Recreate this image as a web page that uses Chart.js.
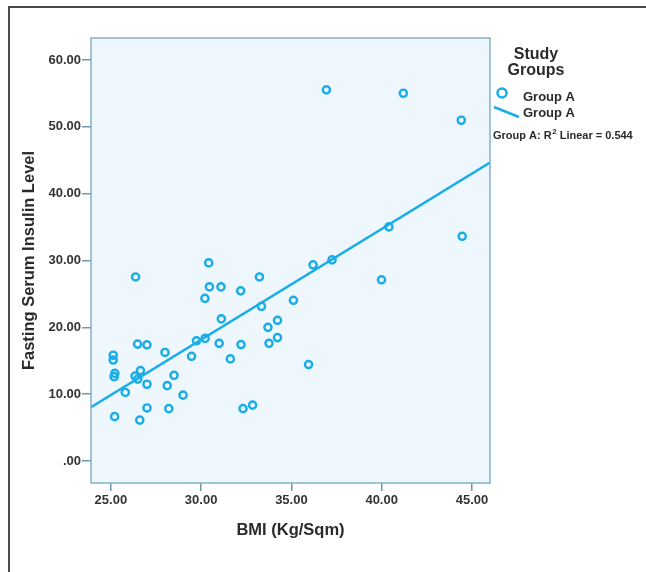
<!DOCTYPE html>
<html>
<head>
<meta charset="utf-8">
<script src="https://cdn.jsdelivr.net/npm/chart.js@4.4.1/dist/chart.umd.min.js"></script>
<style>
  html, body { margin: 0; padding: 0; background: #fff; }
  #wrap { position: relative; width: 646px; height: 572px; }
  #frame { position: absolute; left: 8px; top: 6px; right: 0; bottom: 0;
           border-left: 2px solid #4a4a4a; border-top: 2px solid #4a4a4a; pointer-events: none; }
</style>
</head>
<body>
<div id="wrap">
  <canvas id="bmiChart" width="646" height="572"></canvas>
  <div id="frame"></div>
</div>
<script>
// BMI vs fasting insulin
const bmi = [36.94, 41.20, 44.41, 40.40, 44.46, 37.25, 36.20, 39.99, 26.37, 30.42,
             30.46, 31.10, 30.21, 32.19, 33.23, 35.11, 33.34, 31.12, 34.23, 33.70,
             30.22, 29.74, 34.23, 33.76, 31.00, 32.21, 26.48, 27.00, 28.00, 29.47,
             31.62, 25.13, 25.13, 25.22, 25.18, 26.34, 26.64, 26.49, 27.00, 28.12,
             28.50, 25.80, 29.00, 35.95, 25.21, 26.60, 27.00, 28.21, 32.32, 32.85];
const insulin = [55.54, 55.03, 50.99, 35.03, 33.62, 30.09, 29.34, 27.11, 27.54, 29.64,
                 26.05, 26.05, 24.33, 25.46, 27.54, 24.04, 23.13, 21.26, 21.05, 20.00,
                 18.34, 17.98, 18.46, 17.60, 17.60, 17.41, 17.49, 17.38, 16.24, 15.66,
                 15.27, 15.82, 15.10, 13.10, 12.62, 12.69, 13.52, 12.25, 11.48, 11.27,
                 12.80, 10.25, 9.85, 14.42, 6.63, 6.11, 7.93, 7.83, 7.83, 8.35];
const xTicks = [25, 30, 35, 40, 45];
const yTicks = [0, 10, 20, 30, 40, 50, 60];
const xRange = [23.9, 46.0];
const yRange = [-3.3, 63.3];
const groupLabel = "Group A";
const fitLabel = "Group A: R";
const fitValue = " Linear = 0.544";

const blue = "#19ade6";
const fontFamily = "'Liberation Sans', Arial, sans-serif";

// least squares fit line
const n = bmi.length;
const mx = bmi.reduce((a, b) => a + b, 0) / n;
const my = insulin.reduce((a, b) => a + b, 0) / n;
let sxy = 0, sxx = 0;
for (let i = 0; i < n; i++) {
  sxy += (bmi[i] - mx) * (insulin[i] - my);
  sxx += (bmi[i] - mx) * (bmi[i] - mx);
}
const slope = sxy / sxx;
const intercept = my - slope * mx;

const points = bmi.map((x, i) => ({ x: x, y: insulin[i] }));
const fitLine = xRange.map((x) => ({ x: x, y: intercept + slope * x }));

const plotBox = {
  id: "plotBox",
  beforeDraw(chart) {
    const { ctx, chartArea: a } = chart;
    ctx.save();
    ctx.fillStyle = "#eef7fe";
    ctx.fillRect(a.left, a.top, a.right - a.left, a.bottom - a.top);
    ctx.restore();
  },
  afterDraw(chart) {
    const { ctx, chartArea: a } = chart;
    ctx.save();
    ctx.strokeStyle = "#86b0c8";
    ctx.lineWidth = 1.5;
    ctx.strokeRect(a.left, a.top, a.right - a.left, a.bottom - a.top);

    // legend
    ctx.fillStyle = "#2a2a2a";
    ctx.textBaseline = "middle";
    ctx.textAlign = "center";
    ctx.font = "bold 16px " + fontFamily;
    ctx.fillText("Study", 536, 55);
    ctx.fillText("Groups", 536, 71);

    ctx.strokeStyle = blue;
    ctx.lineWidth = 2.5;
    ctx.beginPath();
    ctx.arc(502, 93, 4.5, 0, Math.PI * 2);
    ctx.stroke();
    ctx.beginPath();
    ctx.moveTo(494, 107);
    ctx.lineTo(519, 117);
    ctx.stroke();

    ctx.textAlign = "left";
    ctx.font = "bold 13px " + fontFamily;
    ctx.fillText(groupLabel, 523, 97);
    ctx.fillText(groupLabel, 523, 113);

    ctx.font = "bold 11px " + fontFamily;
    let x = 493;
    ctx.fillText(fitLabel, x, 136);
    x += ctx.measureText(fitLabel).width;
    ctx.font = "bold 8px " + fontFamily;
    ctx.fillText("2", x + 0.5, 132);
    x += ctx.measureText("2").width + 0.5;
    ctx.font = "bold 11px " + fontFamily;
    ctx.fillText(fitValue, x, 136);
    ctx.restore();
  }
};

new Chart(document.getElementById("bmiChart"), {
  type: "scatter",
  data: {
    datasets: [
      {
        label: groupLabel,
        data: points,
        pointStyle: "circle",
        pointRadius: 3.6,
        borderWidth: 2.4,
        borderColor: blue,
        backgroundColor: "rgba(0,0,0,0)"
      },
      {
        label: groupLabel,
        data: fitLine,
        showLine: true,
        pointRadius: 0,
        borderWidth: 2.5,
        borderColor: blue
      }
    ]
  },
  options: {
    responsive: false,
    animation: false,
    layout: { padding: { left: 0, right: 156, top: 38, bottom: 0 } },
    plugins: { legend: { display: false }, tooltip: { enabled: false } },
    scales: {
      x: {
        type: "linear",
        min: xRange[0],
        max: xRange[1],
        afterBuildTicks: (s) => { s.ticks = xTicks.map((v) => ({ value: v })); },
        afterFit: (s) => { s.height = 89; },
        grid: { drawOnChartArea: false, tickLength: 8, color: "#6d97b0", lineWidth: 1.5 },
        border: { display: false },
        ticks: {
          padding: 2,
          color: "#333",
          font: { family: fontFamily, size: 13, weight: "bold" },
          callback: (v) => (v === 0 ? ".00" : Number(v).toFixed(2))
        },
        title: {
          display: true,
          text: "BMI (Kg/Sqm)",
          color: "#2a2a2a",
          font: { family: fontFamily, size: 16.5, weight: "bold" },
          padding: { top: 0, bottom: 32 }
        }
      },
      y: {
        type: "linear",
        min: yRange[0],
        max: yRange[1],
        afterBuildTicks: (s) => { s.ticks = yTicks.map((v) => ({ value: v })); },
        afterFit: (s) => { s.width = 91; },
        grid: { drawOnChartArea: false, tickLength: 9, color: "#6d97b0", lineWidth: 1.5 },
        border: { display: false },
        ticks: {
          padding: 1,
          color: "#333",
          font: { family: fontFamily, size: 13, weight: "bold" },
          callback: (v) => (v === 0 ? ".00" : Number(v).toFixed(2))
        },
        title: {
          display: true,
          text: "Fasting Serum Insulin Level",
          color: "#2a2a2a",
          font: { family: fontFamily, size: 16.5, weight: "bold" },
          padding: { top: 20, bottom: 0 }
        }
      }
    }
  },
  plugins: [plotBox]
});
</script>
</body>
</html>
